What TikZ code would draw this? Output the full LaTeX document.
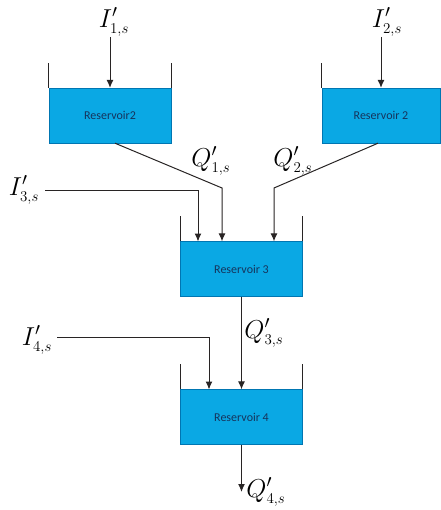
\documentclass[tikz,border=0pt]{standalone}
\usepackage{fontspec}
\newfontfamily\resfont{Carlito}
\usetikzlibrary{arrows.meta}
\definecolor{resblue}{RGB}{10,168,228}
\definecolor{resedge}{RGB}{0,118,178}
\definecolor{restext}{RGB}{22,52,92}
\definecolor{linegray}{RGB}{40,36,36}
\newcommand{\sub}[1]{{\scriptscriptstyle #1}}
\begin{document}
\begin{tikzpicture}[x=1pt, y=-1pt,
  res/.style={draw=resedge, fill=resblue, minimum width=122pt, minimum height=55pt, inner sep=0pt,
    font=\resfont\fontsize{12}{14}\selectfont, text=restext},
  wall/.style={linegray, line width=0.7pt},
  flow/.style={linegray, line width=1pt, -{Latex[length=8pt,width=7pt]}},
  lab/.style={font=\huge, scale=1.25, inner sep=0pt}]
\useasboundingbox (0,0) rectangle (440,510);

% reservoirs
\node[res] (r1) at (110,115.5) {Reservoir2};
\node[res, minimum width=118pt] (r2) at (381,115.5) {Reservoir 2};
\node[res] (r3) at (241.5,269) {Reservoir 3};
\node[res] (r4) at (241.5,417) {Reservoir 4};

% walls
\draw[wall] (r1.north west) -- ++(0,-25);
\draw[wall] (r1.north east) -- ++(0,-25);
\draw[wall] (r2.north west) -- ++(0,-25);
\draw[wall] (r3.north west) -- ++(0,-25);
\draw[wall] (r3.north east) -- ++(0,-25);
\draw[wall] (r4.north west) -- ++(0,-25);
\draw[wall] (r4.north east) -- ++(0,-25);

% inflows
\node[lab] (li1) at (114,22) {$I'_{\sub{1,s}}$};
\node[lab] (li2) at (387,22) {$I'_{\sub{2,s}}$};
\node[lab] (li3) at (24,190) {$I'_{\sub{3,s}}$};
\node[lab] (li4) at (37,340) {$I'_{\sub{4,s}}$};
\coordinate (i1) at (110,37);
\coordinate (i2) at (381,37);
\coordinate (i3) at (45,191);
\coordinate (i4) at (57,337);
\draw[flow] (i1) -- (r1.north);
\draw[flow] (i2) -- (r2.north);
\draw[flow] (i3) -- (198,191) -- (198,241.5);
\draw[flow] (i4) -- (209,337) -- (209,389.5);

% outflows
\coordinate (q1) at (222,188);
\coordinate (q2) at (274,188);
\coordinate (q4) at (241.5,492);
\draw[flow] ([xshift=5pt]r1.south) -- (q1) -- (q1 |- r3.north);
\draw[flow] ([xshift=-3pt]r2.south) -- (q2) -- (q2 |- r3.north);
\draw[flow] (r3.south) -- (r4.north);
\draw[flow] (r4.south) -- (q4);
\node[lab] (lq1) at (211,161) {$Q'_{\sub{1,s}}$};
\node[lab] (lq2) at (293,161) {$Q'_{\sub{2,s}}$};
\node[lab] (lq3) at (264,333) {$Q'_{\sub{3,s}}$};
\node[lab] (lq4) at (266,492) {$Q'_{\sub{4,s}}$};
\end{tikzpicture}
\end{document}
